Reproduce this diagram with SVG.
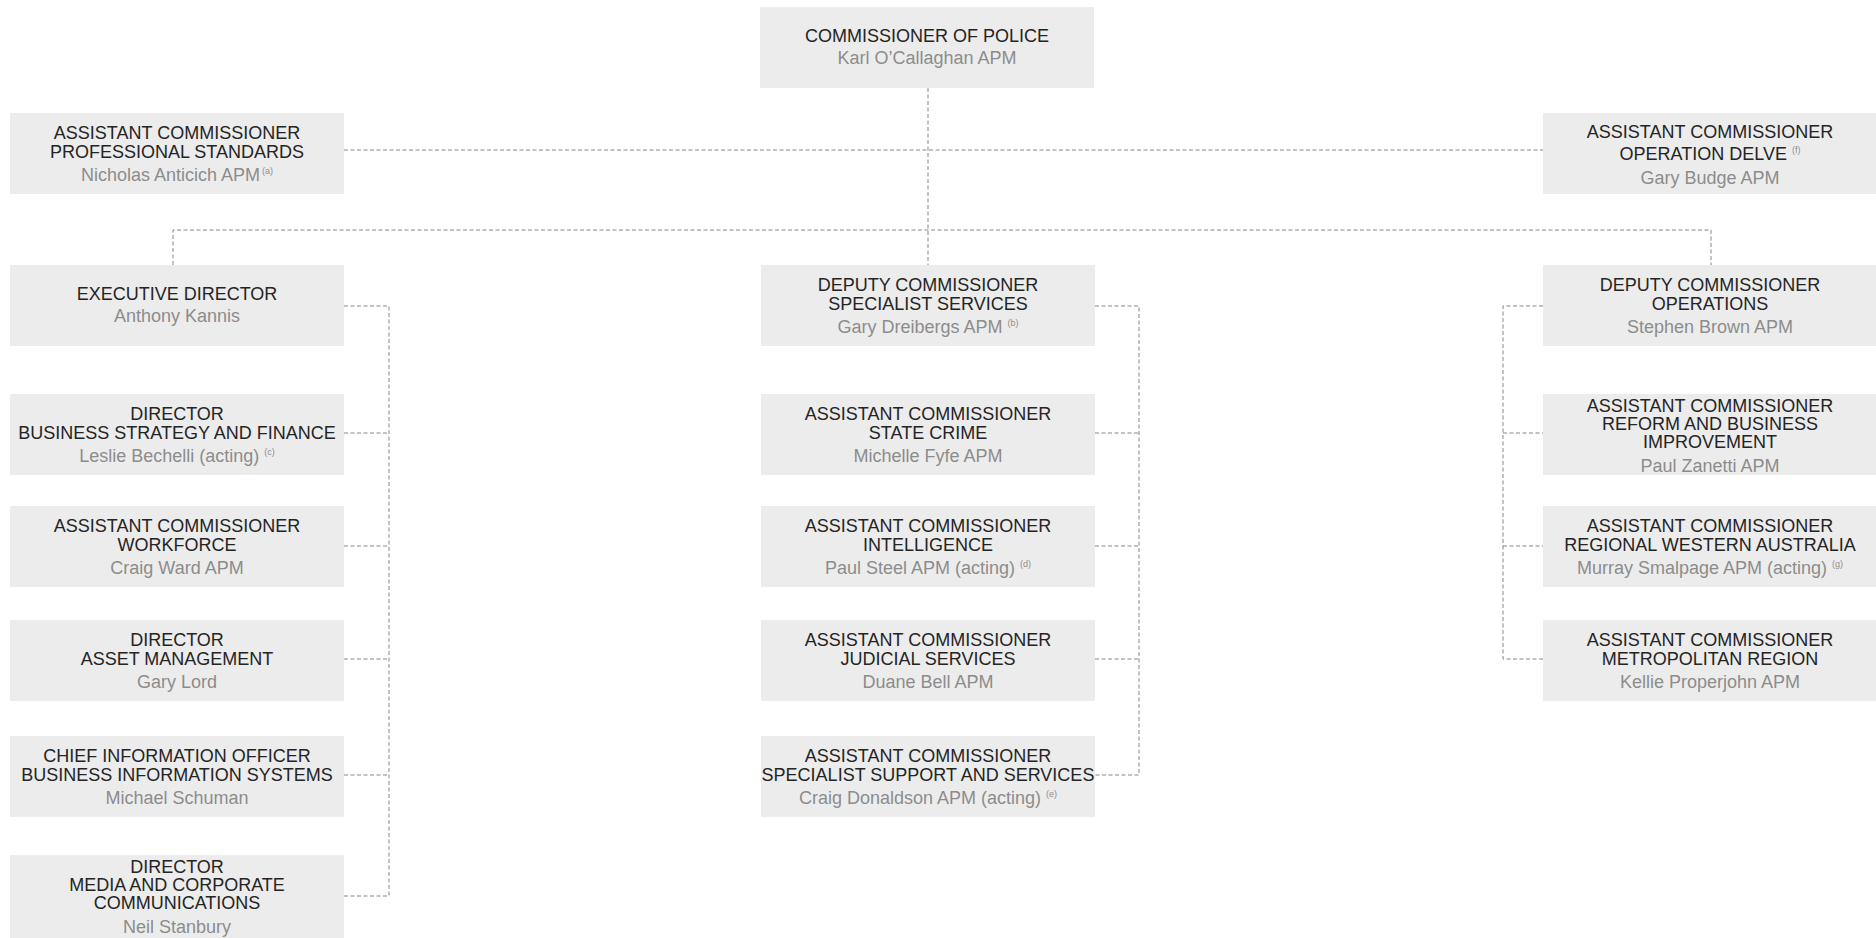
<svg xmlns="http://www.w3.org/2000/svg" width="1876" height="938" viewBox="0 0 1876 938">
<style>
.box{fill:#ececec}
text{font-family:"Liberation Sans",Arial,sans-serif;font-size:18px;text-anchor:middle}
.t{fill:#242424}
.n{fill:#8c8c8c}
.sup{font-size:9px}
.c{fill:none;stroke:#858585;stroke-width:1;stroke-dasharray:4 2.5}
</style>
<rect width="1876" height="938" fill="#ffffff"/>
<g id="connectors">
<path class="c" d="M928 88V265"/>
<path class="c" d="M344 150H1543"/>
<path class="c" d="M173 265V230H1711V265"/>
<path class="c" d="M344 306H389V896H344M344 433H389M344 546H389M344 659H389M344 775H389"/>
<path class="c" d="M1095 306H1139V775H1095M1095 433H1139M1095 546H1139M1095 659H1139"/>
<path class="c" d="M1543 306H1503V659H1543M1503 433H1543M1503 546H1543"/>
</g>
<g id="commissioner">
<rect class="box" x="760" y="7" width="334" height="81"/>
<text class="t" x="927" y="42">COMMISSIONER OF POLICE</text>
<text class="n" x="927" y="64">Karl O’Callaghan APM</text>
</g>
<g id="ac-professional-standards">
<rect class="box" x="10" y="113" width="334" height="81"/>
<text class="t" x="177" y="139">ASSISTANT COMMISSIONER</text>
<text class="t" x="177" y="158">PROFESSIONAL STANDARDS</text>
<text class="n" x="177" y="181">Nicholas Anticich APM<tspan class="sup" dx="2" dy="-7">(a)</tspan></text>
</g>
<g id="ac-operation-delve">
<rect class="box" x="1543" y="113" width="333" height="81"/>
<text class="t" x="1710" y="138">ASSISTANT COMMISSIONER</text>
<text class="t" x="1710" y="160">OPERATION DELVE<tspan class="sup n" dx="5" dy="-7">(f)</tspan></text>
<text class="n" x="1710" y="184">Gary Budge APM</text>
</g>
<g id="executive-director">
<rect class="box" x="10" y="265" width="334" height="81"/>
<text class="t" x="177" y="300">EXECUTIVE DIRECTOR</text>
<text class="n" x="177" y="322">Anthony Kannis</text>
</g>
<g id="dc-specialist-services">
<rect class="box" x="761" y="265" width="334" height="81"/>
<text class="t" x="928" y="291">DEPUTY COMMISSIONER</text>
<text class="t" x="928" y="310">SPECIALIST SERVICES</text>
<text class="n" x="928" y="333">Gary Dreibergs APM<tspan class="sup" dx="5" dy="-7">(b)</tspan></text>
</g>
<g id="dc-operations">
<rect class="box" x="1543" y="265" width="333" height="81"/>
<text class="t" x="1710" y="291">DEPUTY COMMISSIONER</text>
<text class="t" x="1710" y="310">OPERATIONS</text>
<text class="n" x="1710" y="333">Stephen Brown APM</text>
</g>
<g id="director-bsf">
<rect class="box" x="10" y="394" width="334" height="81"/>
<text class="t" x="177" y="420">DIRECTOR</text>
<text class="t" x="177" y="439">BUSINESS STRATEGY AND FINANCE</text>
<text class="n" x="177" y="462">Leslie Bechelli (acting)<tspan class="sup" dx="5" dy="-7">(c)</tspan></text>
</g>
<g id="ac-state-crime">
<rect class="box" x="761" y="394" width="334" height="81"/>
<text class="t" x="928" y="420">ASSISTANT COMMISSIONER</text>
<text class="t" x="928" y="439">STATE CRIME</text>
<text class="n" x="928" y="462">Michelle Fyfe APM</text>
</g>
<g id="ac-reform">
<rect class="box" x="1543" y="394" width="333" height="81"/>
<text class="t" x="1710" y="412">ASSISTANT COMMISSIONER</text>
<text class="t" x="1710" y="430">REFORM AND BUSINESS</text>
<text class="t" x="1710" y="448">IMPROVEMENT</text>
<text class="n" x="1710" y="472">Paul Zanetti APM</text>
</g>
<g id="ac-workforce">
<rect class="box" x="10" y="506" width="334" height="81"/>
<text class="t" x="177" y="532">ASSISTANT COMMISSIONER</text>
<text class="t" x="177" y="551">WORKFORCE</text>
<text class="n" x="177" y="574">Craig Ward APM</text>
</g>
<g id="ac-intelligence">
<rect class="box" x="761" y="506" width="334" height="81"/>
<text class="t" x="928" y="532">ASSISTANT COMMISSIONER</text>
<text class="t" x="928" y="551">INTELLIGENCE</text>
<text class="n" x="928" y="574">Paul Steel APM (acting)<tspan class="sup" dx="5" dy="-7">(d)</tspan></text>
</g>
<g id="ac-regional-wa">
<rect class="box" x="1543" y="506" width="333" height="81"/>
<text class="t" x="1710" y="532">ASSISTANT COMMISSIONER</text>
<text class="t" x="1710" y="551">REGIONAL WESTERN AUSTRALIA</text>
<text class="n" x="1710" y="574">Murray Smalpage APM (acting)<tspan class="sup" dx="5" dy="-7">(g)</tspan></text>
</g>
<g id="director-asset">
<rect class="box" x="10" y="620" width="334" height="81"/>
<text class="t" x="177" y="646">DIRECTOR</text>
<text class="t" x="177" y="665">ASSET MANAGEMENT</text>
<text class="n" x="177" y="688">Gary Lord</text>
</g>
<g id="ac-judicial">
<rect class="box" x="761" y="620" width="334" height="81"/>
<text class="t" x="928" y="646">ASSISTANT COMMISSIONER</text>
<text class="t" x="928" y="665">JUDICIAL SERVICES</text>
<text class="n" x="928" y="688">Duane Bell APM</text>
</g>
<g id="ac-metropolitan">
<rect class="box" x="1543" y="620" width="333" height="81"/>
<text class="t" x="1710" y="646">ASSISTANT COMMISSIONER</text>
<text class="t" x="1710" y="665">METROPOLITAN REGION</text>
<text class="n" x="1710" y="688">Kellie Properjohn APM</text>
</g>
<g id="cio">
<rect class="box" x="10" y="736" width="334" height="81"/>
<text class="t" x="177" y="762">CHIEF INFORMATION OFFICER</text>
<text class="t" x="177" y="781">BUSINESS INFORMATION SYSTEMS</text>
<text class="n" x="177" y="804">Michael Schuman</text>
</g>
<g id="ac-specialist-support">
<rect class="box" x="761" y="736" width="334" height="81"/>
<text class="t" x="928" y="762">ASSISTANT COMMISSIONER</text>
<text class="t" x="928" y="781">SPECIALIST SUPPORT AND SERVICES</text>
<text class="n" x="928" y="804">Craig Donaldson APM (acting)<tspan class="sup" dx="5" dy="-7">(e)</tspan></text>
</g>
<g id="director-media">
<rect class="box" x="10" y="855" width="334" height="83"/>
<text class="t" x="177" y="873">DIRECTOR</text>
<text class="t" x="177" y="891">MEDIA AND CORPORATE</text>
<text class="t" x="177" y="909">COMMUNICATIONS</text>
<text class="n" x="177" y="933">Neil Stanbury</text>
</g>
</svg>
